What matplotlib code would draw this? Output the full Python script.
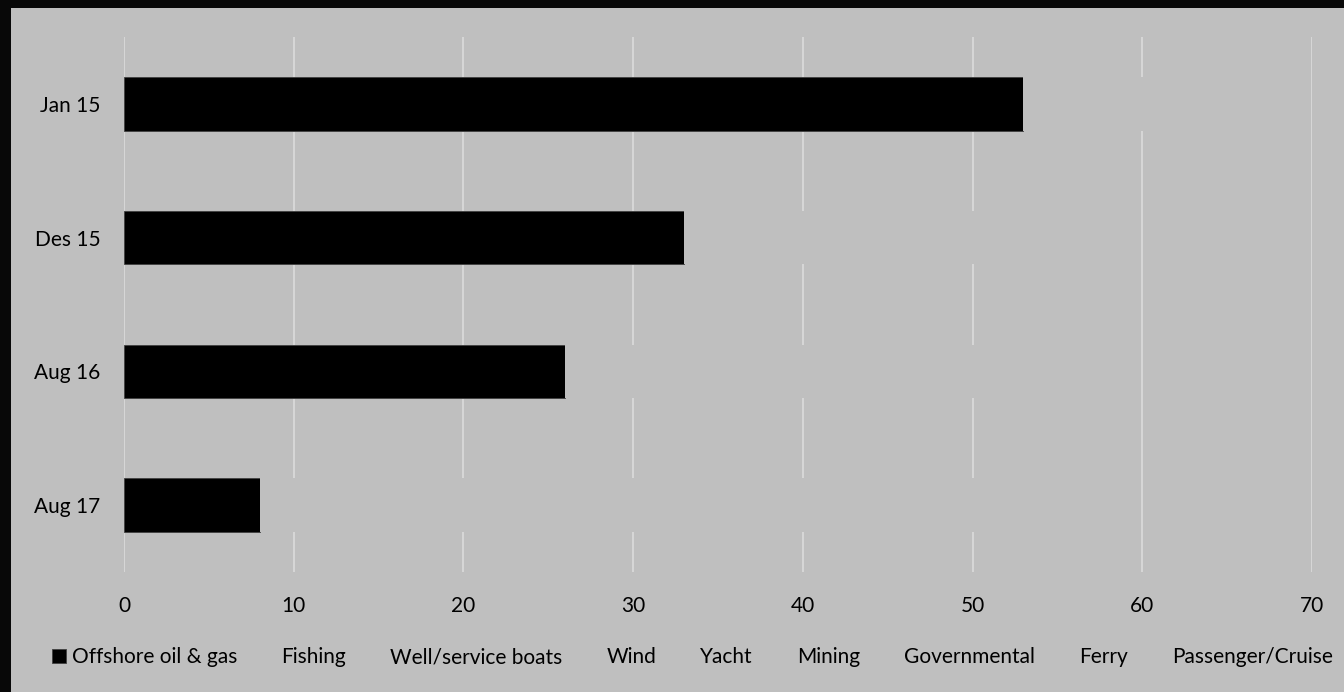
import matplotlib
matplotlib.use('Agg')
import matplotlib.pyplot as plt
from matplotlib.patches import Rectangle
import numpy as np

plt.rcParams['font.family'] = ['Lato', 'DejaVu Sans']

# categories, top to bottom
periods = ['Jan 15', 'Des 15', 'Aug 16', 'Aug 17']

# visible series
offshore = [53, 33, 26, 8]
# the other segments are drawn in the background colour, so only their
# rough extent can be read from where they hide the gridlines
fishing = [2, 4, 5, 7]
well_service = [2, 4, 5, 8]
wind = [1, 3, 4, 6]
yacht = [1, 2, 3, 5]
mining = [1, 2, 3, 5]
governmental = [2, 3, 4, 6]
ferry = [1, 2, 3, 5]
passenger = [1, 2, 2, 4]

series = [
    ('Offshore oil & gas', offshore),
    ('Fishing', fishing),
    ('Well/service boats', well_service),
    ('Wind', wind),
    ('Yacht', yacht),
    ('Mining', mining),
    ('Governmental', governmental),
    ('Ferry', ferry),
    ('Passenger/Cruise', passenger),
]

bg = '#BFBFBF'
W, H = 1344, 692
FS = 15

fig = plt.figure(figsize=(W / 100, H / 100), dpi=100)
fig.patch.set_facecolor('#080808')
fig.add_artist(Rectangle((11 / W, 0), 1, 1 - 8 / H, transform=fig.transFigure,
                         facecolor=bg, edgecolor='none', zorder=-1))

ax = fig.add_axes([124 / W, 1 - 572 / H, (1312 - 124) / W, (572 - 37) / H])
ax.set_facecolor(bg)

y = np.arange(len(periods))
left = np.zeros(len(periods))
for i, (name, vals) in enumerate(series):
    if i == 0:
        ax.barh(y, vals, left=left, height=0.4, color='black',
                edgecolor='#404040', linewidth=0.6, label=name, zorder=3)
    else:
        ax.barh(y, vals, left=left, height=0.4, color=bg,
                edgecolor='none', label=name, zorder=3)
    left += np.array(vals)

ax.set_xlim(0, 70)
ax.set_ylim(len(periods) - 0.5, -0.5)
ax.set_xticks(range(0, 71, 10))
ax.set_yticks(y)
ax.set_yticklabels(periods)
ax.grid(axis='x', color='#D9D9D9', linewidth=1.3, zorder=0)
ax.set_axisbelow(True)
for s in ax.spines.values():
    s.set_visible(False)
ax.tick_params(axis='both', length=0, labelsize=FS, colors='black')
ax.tick_params(axis='y', pad=17)
ax.tick_params(axis='x', pad=17)

fs = FS * 100 / 72
handles, labels = ax.get_legend_handles_labels()
fig.legend(handles, labels, loc='center left', ncol=9,
           bbox_to_anchor=(52 / W, 1 - 657 / H), frameon=False,
           fontsize=FS, borderpad=0, borderaxespad=0,
           handlelength=14 / fs, handleheight=14 / fs,
           handletextpad=6 / fs, columnspacing=24 / fs)

fig.savefig('out.png', dpi=100, facecolor=fig.get_facecolor())
